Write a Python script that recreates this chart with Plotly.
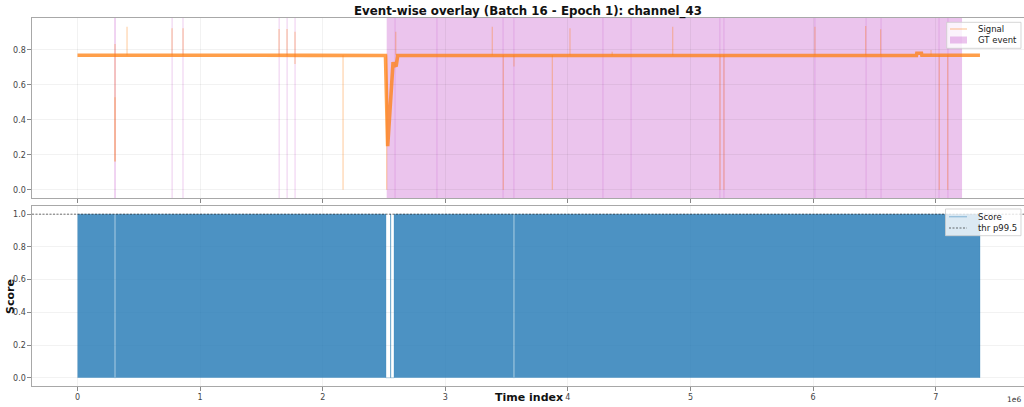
import plotly.graph_objects as go

SCALE = 1e6  # time axis is shown in units of 1e6 samples

# ---- signal (channel_43) ----
# baseline trajectory: time (x1e6), value
base_t = [0.000, 0.300, 0.650, 1.100, 1.500, 1.900, 2.300, 2.512, 2.530, 2.545,
          2.562, 2.574, 2.580, 2.600, 2.612, 3.000, 4.000, 5.000, 5.600, 6.200,
          6.843, 6.846, 6.884, 6.887, 7.361]
base_v = [0.770, 0.769, 0.771, 0.768, 0.770, 0.769, 0.770, 0.768, 0.250, 0.420,
          0.590, 0.730, 0.708, 0.712, 0.768, 0.768, 0.768, 0.768, 0.769, 0.768,
          0.768, 0.781, 0.781, 0.770, 0.770]

# isolated single-sample excursions: time (x1e6), low, high
spike_t = [0.306, 0.306, 0.404, 0.771, 0.861, 1.644, 1.709, 1.774, 2.166, 2.522,
           2.596, 3.383, 3.473, 3.560, 3.873, 4.017, 4.361, 4.855, 5.241, 5.273,
           6.015, 6.429, 6.551, 6.962, 7.029, 7.098]
spike_lo = [0.162, 0.162, 0.770, 0.770, 0.770, 0.770, 0.770, 0.720, 0.000, 0.000,
            0.770, 0.770, 0.000, 0.705, 0.000, 0.770, 0.770, 0.770, 0.000, 0.000,
            0.770, 0.770, 0.770, 0.770, 0.000, 0.000]
spike_hi = [0.834, 0.530, 0.933, 0.924, 0.924, 0.920, 0.920, 0.905, 0.770, 0.770,
            0.905, 0.933, 0.770, 0.770, 0.770, 0.924, 0.790, 0.933, 0.770, 0.770,
            0.933, 0.937, 0.918, 0.800, 0.770, 0.770]

# ---- ground-truth events: start / end (x1e6) ----
gt_start = [0.300, 0.768, 0.857, 1.641, 1.706, 1.771,
            2.522, 2.587, 2.929, 3.468, 3.557, 4.283, 4.512, 5.237, 5.270,
            6.012, 6.429, 6.551, 7.024, 7.097]
gt_end = [0.312, 0.775, 0.864, 1.648, 1.713, 1.778,
          2.593, 2.935, 3.474, 3.563, 4.289, 4.518, 5.243, 5.276, 6.018,
          6.435, 6.557, 7.030, 7.103, 7.215]

# ---- anomaly score ----
score_t = [0.000, 0.302, 0.302, 0.310, 0.310, 2.516, 2.516, 2.553, 2.553, 2.556,
           2.556, 2.582, 2.582, 3.556, 3.556, 3.564, 3.564, 7.361, 7.361]
score_v = [1.000, 1.000, 0.000, 0.000, 1.000, 1.000, 0.000, 0.000, 1.000, 1.000,
           0.000, 0.000, 1.000, 1.000, 0.000, 0.000, 1.000, 1.000, 0.000]
thr_p995 = 1.0

# ---- axes ticks ----
x_ticks = [0, 1, 2, 3, 4, 5, 6, 7]
x_ticklabels = ["0", "1", "2", "3", "4", "5", "6", "7"]
sig_ticks = [0.0, 0.2, 0.4, 0.6, 0.8]
score_ticks = [0.0, 0.2, 0.4, 0.6, 0.8, 1.0]

X_RANGE = [-0.3711 * SCALE, 7.7202 * SCALE]

W, H = 1024, 407
ML, MR, MT, MB = 32, 0, 18, 21
PW, PH = W - ML - MR, H - MT - MB


def px(xp):
    return (xp - ML) / PW


def py(yp):
    return (H - MB - yp) / PH


FONT = "DejaVu Sans"
ORANGE = "rgba(255,127,14,0.75)"
ORANGE_LIGHT = "rgba(255,127,14,0.35)"
GT_FILL = "rgba(190,60,195,0.30)"
BLUE_FILL = "rgba(31,119,180,0.80)"
BLUE_LINE = "rgba(31,119,180,0.30)"
GRID = "rgba(0,0,0,0.05)"
AXLINE = "#a8a8a8"

fig = go.Figure()

# signal baseline band
fig.add_trace(go.Scatter(
    x=[t * SCALE for t in base_t], y=base_v, mode="lines",
    line=dict(color=ORANGE, width=3.6), showlegend=False,
    xaxis="x", yaxis="y", hoverinfo="skip"))

# signal single-sample excursions
sx, sy = [], []
for t, lo, hi in zip(spike_t, spike_lo, spike_hi):
    sx += [t * SCALE, t * SCALE, None]
    sy += [lo, hi, None]
fig.add_trace(go.Scatter(
    x=sx, y=sy, mode="lines", name="Signal",
    line=dict(color=ORANGE_LIGHT, width=1.2), showlegend=False,
    xaxis="x", yaxis="y", hoverinfo="skip"))

# score
fig.add_trace(go.Scatter(
    x=[t * SCALE for t in score_t], y=score_v, mode="lines", name="Score",
    fill="tozeroy", fillcolor=BLUE_FILL,
    line=dict(color=BLUE_LINE, width=1), showlegend=False,
    xaxis="x2", yaxis="y2", hoverinfo="skip"))

# threshold
fig.add_trace(go.Scatter(
    x=X_RANGE, y=[thr_p995, thr_p995], mode="lines", name="thr p99.5",
    line=dict(color="rgba(0,0,0,0.7)", width=0.8, dash="2px,1.5px"),
    showlegend=False, xaxis="x2", yaxis="y2", hoverinfo="skip"))

shapes = []
for s, e in zip(gt_start, gt_end):
    shapes.append(dict(type="rect", xref="x", yref="y domain",
                       x0=s * SCALE, x1=e * SCALE, y0=0, y1=1,
                       fillcolor=GT_FILL, line=dict(width=0), layer="below"))

# legend boxes
legend_boxes = [(946.7, 22.3, 1021, 48.3), (945.5, 209, 1021, 235.7)]
for x0, y0, x1, y1 in legend_boxes:
    shapes.append(dict(type="rect", xref="paper", yref="paper",
                       x0=px(x0), x1=px(x1), y0=py(y1), y1=py(y0),
                       fillcolor="rgba(255,255,255,0.8)",
                       line=dict(color="rgba(204,204,204,0.8)", width=1),
                       layer="above"))
# legend samples
shapes.append(dict(type="line", xref="paper", yref="paper",
                   x0=px(950), x1=px(967), y0=py(29), y1=py(29),
                   line=dict(color=ORANGE_LIGHT, width=1.4), layer="above"))
shapes.append(dict(type="rect", xref="paper", yref="paper",
                   x0=px(950), x1=px(967), y0=py(43.5), y1=py(36.5),
                   fillcolor=GT_FILL, line=dict(width=0), layer="above"))
shapes.append(dict(type="line", xref="paper", yref="paper",
                   x0=px(949), x1=px(967), y0=py(216.7), y1=py(216.7),
                   line=dict(color="rgba(31,119,180,0.35)", width=1.4), layer="above"))
shapes.append(dict(type="line", xref="paper", yref="paper",
                   x0=px(949), x1=px(967), y0=py(228), y1=py(228),
                   line=dict(color="rgba(0,0,0,0.7)", width=0.8, dash="2px,1.5px"),
                   layer="above"))

legend_font = dict(family=FONT, size=8.5, color="#222")
annotations = []
for text, yy in [("Signal", 29), ("GT event", 40), ("Score", 217), ("thr p99.5", 228)]:
    annotations.append(dict(text=text, xref="paper", yref="paper",
                            x=px(975.5), y=py(yy), xanchor="left", yanchor="middle",
                            showarrow=False, font=legend_font))

annotations.append(dict(text="<b>Score</b>", xref="paper", yref="paper",
                        x=px(10), y=py(297), xanchor="center", yanchor="middle",
                        textangle=-90, showarrow=False,
                        font=dict(family=FONT, size=11, color="#111")))
annotations.append(dict(text="<b>Time index</b>", xref="paper", yref="paper",
                        x=px(529), y=py(406), xanchor="center", yanchor="bottom",
                        showarrow=False, font=dict(family=FONT, size=11, color="#111")))
annotations.append(dict(text="1e6", xref="paper", yref="paper",
                        x=px(1023), y=py(399.5), xanchor="right", yanchor="middle",
                        showarrow=False, font=dict(family=FONT, size=7.5, color="#333")))

tick_font = dict(family=FONT, size=8, color="#444")
common_x = dict(range=X_RANGE, tickvals=[t * SCALE for t in x_ticks],
                ticktext=x_ticklabels, ticks="outside", ticklen=3.5,
                tickcolor="#888", tickwidth=0.8, showline=True, linecolor=AXLINE,
                linewidth=1.2, mirror=True, showgrid=True, gridcolor=GRID,
                gridwidth=0.8, zeroline=False, tickfont=tick_font)
common_y = dict(ticks="outside", ticklen=3.5, tickcolor="#888", tickwidth=0.8,
                showline=True, linecolor=AXLINE, linewidth=1.2, showgrid=True,
                gridcolor=GRID, gridwidth=0.8, zeroline=False, tickfont=tick_font)

top_lo = py(198)
bot_hi = py(206)

fig.update_layout(
    width=W, height=H,
    margin=dict(l=ML, r=MR, t=MT, b=MB, pad=0),
    paper_bgcolor="white", plot_bgcolor="white",
    font=dict(family=FONT),
    title=dict(text="<b>Event-wise overlay (Batch 16 - Epoch 1): channel_43</b>",
               x=528 / W, xref="container", xanchor="center",
               y=1 - 11 / H, yref="container", yanchor="middle",
               font=dict(family=FONT, size=11.8, color="#111")),
    xaxis=dict(common_x, domain=[0, 1], anchor="y", showticklabels=False),
    yaxis=dict(common_y, domain=[top_lo, 1], range=[-0.047, 0.983],
               tickvals=sig_ticks, ticktext=[f"{v:.1f}" for v in sig_ticks]),
    xaxis2=dict(common_x, domain=[0, 1], anchor="y2", matches="x"),
    yaxis2=dict(common_y, domain=[0, bot_hi], range=[-0.05, 1.05],
                tickvals=score_ticks, ticktext=[f"{v:.1f}" for v in score_ticks]),
    shapes=shapes,
    annotations=annotations,
    showlegend=False,
)

fig.write_html("out.html")
